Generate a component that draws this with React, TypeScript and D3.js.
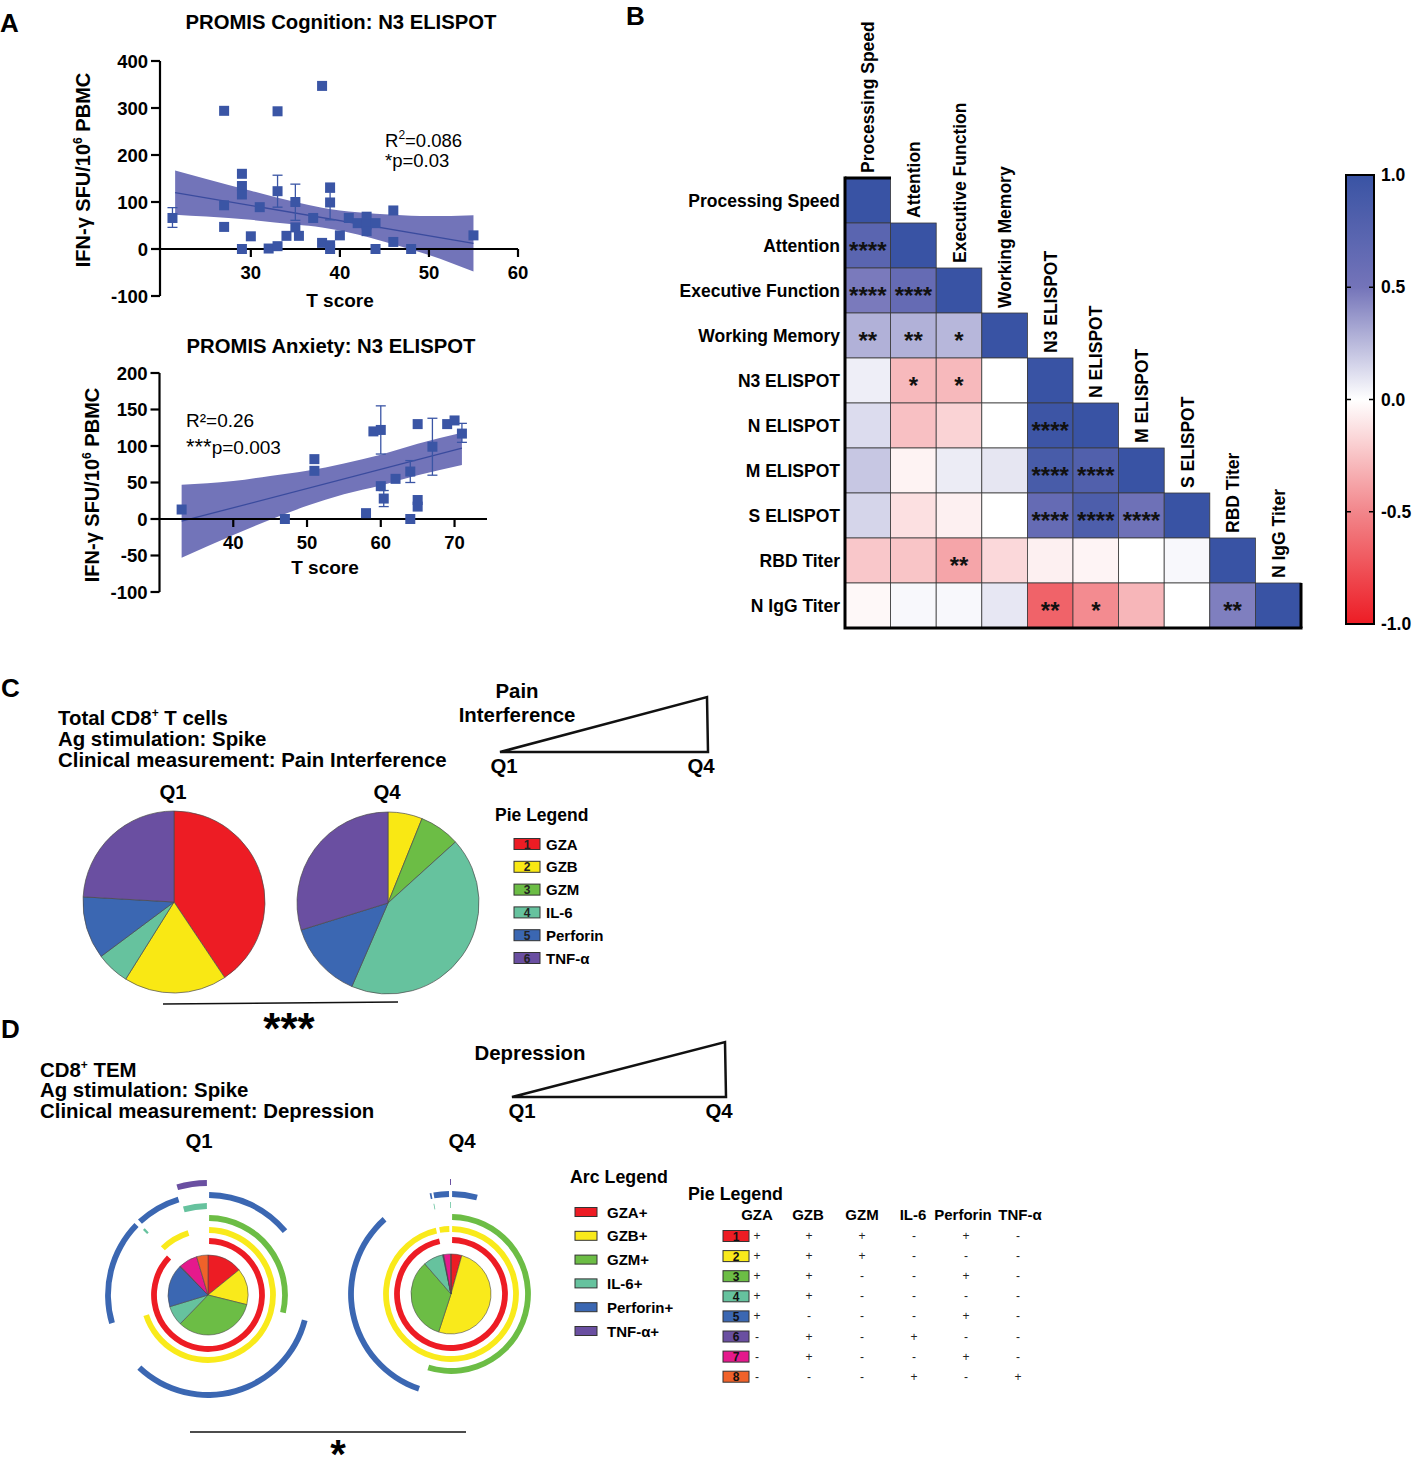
import React from 'react';
import * as d3 from 'd3';

const FONT = "'Liberation Sans', Arial, Helvetica, sans-serif";
const MARK = '#3a55a5';

// ---------------- Panel A data ----------------
const cogT = [21.2, 27, 27, 27, 29, 29, 29, 29, 30, 31, 32, 33, 33, 33, 34, 35, 35, 35.4, 37, 38, 38, 38.9, 38.9, 38.9, 38.9, 40, 41, 42, 43, 43, 43, 44, 44, 46, 46, 48, 55];
const cogSFU = [66, 294, 93, 47, 160, 134, 116, 0, 27, 89, 1, 293, 123, 6, 28, 100, 46, 28, 66, 13, 347, 8, 131, 99, 0, 29, 66, 55, 66, 52, 38, 55, 0, 82, 15, 0, 29];
const cogErrT = [21.2, 33, 35, 38.9, 43];
const cogErrLo = [46, 89, 61, 62, 50];
const cogErrHi = [88, 157, 138, 121, 78];
const cogFitT = [21.5, 55];
const cogFitSFU = [120, 12];
const cogBandT = [21.5, 25, 30, 35, 38, 42, 46, 50, 55];
const cogBandHi = [167, 149, 124, 100, 88, 78, 73, 70, 72];
const cogBandLo = [73, 69, 62, 52, 46, 31, 10, -13, -48];
const cogXTicks = [30, 40, 50, 60];
const cogYTicks = [-100, 0, 100, 200, 300, 400];

const anxT = [33, 47, 51, 51, 58, 59, 60, 60, 60.4, 62, 64, 64, 65, 65, 65, 67, 69, 70, 71];
const anxSFU = [13, 0, 82, 66, 8, 120, 122, 45, 28, 55, 65, 0, 130, 26, 17, 99, 130, 135, 117];
const anxErrT = [60, 60.4, 64, 67, 71];
const anxErrLo = [89, 17, 50, 60, 105];
const anxErrHi = [155, 39, 80, 138, 131];
const anxFitT = [33, 71];
const anxFitSFU = [-3, 97];
const anxBandT = [33, 40, 45, 50, 55, 60, 65, 71];
const anxBandHi = [47, 52, 59, 66, 76, 88, 103, 118];
const anxBandLo = [-53, -22, -1, 18, 34, 46, 60, 74];
const anxXTicks = [40, 50, 60, 70];
const anxYTicks = [-100, -50, 0, 50, 100, 150, 200];

// ---------------- Panel B data ----------------
const heatLabels = ['Processing Speed', 'Attention', 'Executive Function', 'Working Memory', 'N3 ELISPOT', 'N ELISPOT', 'M ELISPOT', 'S ELISPOT', 'RBD Titer', 'N IgG Titer'];
const heatR = [
  [1],
  [0.72, 1],
  [0.48, 0.63, 1],
  [0.28, 0.28, 0.26, 1],
  [0.06, -0.29, -0.29, 0, 1],
  [0.125, -0.26, -0.18, 0, 0.97, 1],
  [0.2, -0.05, 0.07, 0.09, 0.87, 0.8, 1],
  [0.15, -0.13, -0.06, 0, 0.63, 0.83, 0.55, 1],
  [-0.23, -0.24, -0.37, -0.16, -0.06, -0.045, 0, 0.025, 1],
  [-0.03, 0.025, 0.025, 0.085, -0.665, -0.48, -0.3, 0, 0.46, 1],
];
const heatStars = [
  [''],
  ['****', ''],
  ['****', '****', ''],
  ['**', '**', '*', ''],
  ['', '*', '*', '', ''],
  ['', '', '', '', '****', ''],
  ['', '', '', '', '****', '****', ''],
  ['', '', '', '', '****', '****', '****', ''],
  ['', '', '**', '', '', '', '', '', ''],
  ['', '', '', '', '**', '*', '', '', '**', ''],
];
const colorStops = [-1, -0.5, 0, 0.5, 1];
const colorRange = ['#ed1c24', '#f2868b', '#ffffff', '#7474b9', '#3953a4'];
const colorbarTicks = [1.0, 0.5, 0.0, -0.5, -1.0];

// ---------------- Panel C data ----------------
const pieMarkers = ['GZA', 'GZB', 'GZM', 'IL-6', 'Perforin', 'TNF-α'];
const pieColors = ['#ed1c24', '#f9e814', '#6cbd45', '#66c29e', '#3b67b2', '#6a4fa1'];
const painQ1 = [40.6, 18.3, 0, 5.9, 11.1, 24.1];
const painQ4 = [0, 6.1, 7.2, 43.2, 13.7, 29.8];

// ---------------- Panel D data ----------------
const arcMarkers = ['GZA+', 'GZB+', 'GZM+', 'IL-6+', 'Perforin+', 'TNF-α+'];
const arcColors = ['#ed1c24', '#f9ea1b', '#6cbd45', '#66c29e', '#3b67b2', '#6a4fa1'];
const spiceColors = ['#ed1c24', '#f9ea1b', '#6cbd45', '#66c29e', '#3b67b2', '#6a4fa1', '#e5198c', '#f0622a'];
const spiceCombos = ['+++-+-', '+++---', '++--+-', '++----', '+---+-', '-+-+--', '-+--+-', '---+-+'];
const depQ1 = [51, 53, 120, 29, 62, 1.5, 27, 16.5];
const depQ4 = [15.7, 182.3, 121, 29, 1, 0.5, 10, 0.5];

const ringR = [54, 65, 77, 89, 100, 112];

function Scatter(p: any) {
  const x = d3.scaleLinear().domain(p.xDomain).range(p.xRange);
  const y = d3.scaleLinear().domain(p.yDomain).range(p.yRange);
  const band = p.bandT.map((t: number, i: number) => [t, p.bandLo[i], p.bandHi[i]]);
  const area = d3.area<any>().x((d) => x(d[0])).y0((d) => y(d[1])).y1((d) => y(d[2])).curve(d3.curveMonotoneX);
  const line = d3.line<any>().x((d) => x(d[0])).y((d) => y(d[1]));
  const x0 = p.xRange[0];
  const y0 = y(0);
  return (
    <g>
      <path d={area(band) || ''} fill="#7274b9" />
      <path d={line(p.fitT.map((t: number, i: number) => [t, p.fitY[i]])) || ''} stroke="#3a4b9e" strokeWidth={1.3} fill="none" />
      <line x1={x0} x2={x0} y1={y(p.yDomain[1])} y2={y(p.yDomain[0])} stroke="#000" strokeWidth={2.2} />
      <line x1={x0} x2={p.xRange[1]} y1={y0} y2={y0} stroke="#000" strokeWidth={2.2} />
      {p.yTicks.map((v: number) => (
        <g key={'y' + v}>
          <line x1={x0 - 9} x2={x0} y1={y(v)} y2={y(v)} stroke="#000" strokeWidth={2.2} />
          <text x={x0 - 12} y={y(v) + 6.5} textAnchor="end" fontSize={18.5} fontWeight="bold">{v}</text>
        </g>
      ))}
      {p.xTicks.map((v: number) => (
        <g key={'x' + v}>
          <line x1={x(v)} x2={x(v)} y1={y0} y2={y0 + 8} stroke="#000" strokeWidth={2.2} />
          <text x={x(v)} y={y0 + 30} textAnchor="middle" fontSize={18.5} fontWeight="bold">{v}</text>
        </g>
      ))}
      {p.errT.map((t: number, i: number) => (
        <g key={'e' + i} stroke={MARK} strokeWidth={1.3}>
          <line x1={x(t)} x2={x(t)} y1={y(p.errLo[i])} y2={y(p.errHi[i])} />
          <line x1={x(t) - 5} x2={x(t) + 5} y1={y(p.errLo[i])} y2={y(p.errLo[i])} />
          <line x1={x(t) - 5} x2={x(t) + 5} y1={y(p.errHi[i])} y2={y(p.errHi[i])} />
        </g>
      ))}
      {p.xs.map((t: number, i: number) => (
        <rect key={'p' + i} x={x(t) - 5} y={y(p.ys[i]) - 5} width={10} height={10} fill={MARK} />
      ))}
    </g>
  );
}

function Heatmap() {
  const xb = d3.scaleBand().domain(heatLabels).range([845, 1301]);
  const yb = d3.scaleBand().domain(heatLabels).range([178, 628]);
  const color = d3.scaleLinear<string>().domain(colorStops).range(colorRange);
  const bw = xb.bandwidth();
  const bh = yb.bandwidth();
  const cb = d3.scaleLinear().domain([-1, 1]).range([624, 175]);
  return (
    <g>
      <defs>
        <linearGradient id="cbar" x1="0" y1="1" x2="0" y2="0">
          {d3.range(0, 21).map((k) => {
            const v = -1 + k * 0.1;
            return <stop key={k} offset={(k / 20).toFixed(3)} stopColor={color(v)} />;
          })}
        </linearGradient>
      </defs>
      {heatR.map((row, i) =>
        row.map((r, j) => (
          <rect key={i + '-' + j} x={xb(heatLabels[j])} y={yb(heatLabels[i])} width={bw} height={bh}
            fill={color(r)} stroke="#3a3a3a" strokeWidth={0.8} />
        ))
      )}
      {heatStars.map((row, i) =>
        row.map((s, j) => s ? (
          <text key={'s' + i + '-' + j} x={(xb(heatLabels[j]) as number) + bw / 2} y={(yb(heatLabels[i]) as number) + bh / 2 + 13}
            textAnchor="middle" fontSize={24} fontWeight="bold" fill="#111">{s}</text>
        ) : null)
      )}
      <path d={`M845,176.5 V628 H1302.5`} fill="none" stroke="#000" strokeWidth={3} />
      <line x1={845} x2={891} y1={178} y2={178} stroke="#000" strokeWidth={3} />
      <line x1={1301} x2={1301} y1={583} y2={628} stroke="#000" strokeWidth={3} />
      {heatLabels.map((l) => (
        <text key={'r' + l} x={840} y={(yb(l) as number) + bh / 2 + 6.5} textAnchor="end" fontSize={17.5} fontWeight="bold">{l}</text>
      ))}
      {heatLabels.map((l) => (
        <text key={'c' + l} transform={`translate(${(xb(l) as number) + bw / 2 + 6.5},${(yb(l) as number) - 5}) rotate(-90)`}
          fontSize={17.5} fontWeight="bold">{l}</text>
      ))}
      <rect x={1346} y={175} width={28} height={449} fill="url(#cbar)" stroke="#000" strokeWidth={2} />
      {colorbarTicks.map((v) => (
        <g key={'cb' + v}>
          {Math.abs(v) < 1 && (
            <g stroke="#000" strokeWidth={1.5}>
              <line x1={1346} x2={1351} y1={cb(v)} y2={cb(v)} />
              <line x1={1369} x2={1374} y1={cb(v)} y2={cb(v)} />
            </g>
          )}
          <text x={1381} y={cb(v) + 6} fontSize={17.5} fontWeight="bold">{v.toFixed(1)}</text>
        </g>
      ))}
    </g>
  );
}

function Pie({ cx, cy, r, values, colors }: any) {
  const arcs = d3.pie<number>().sort(null).value((d) => d)(values);
  const arcGen = d3.arc<any>().innerRadius(0).outerRadius(r);
  return (
    <g transform={`translate(${cx},${cy})`}>
      {arcs.map((a, i) => a.value > 0 ? (
        <path key={i} d={arcGen(a) || ''} fill={colors[i]} stroke="#4a4a4a" strokeWidth={0.7} />
      ) : null)}
    </g>
  );
}

function SpiceRing({ cx, cy, values }: any) {
  const arcs = d3.pie<number>().sort(null).value((d) => d)(values);
  const pieArc = d3.arc<any>().innerRadius(0).outerRadius(40);
  const ringArc = d3.arc<any>();
  const paths: any[] = [];
  arcMarkers.forEach((m, mi) => {
    const runs: { s: number; e: number }[] = [];
    let cur: { s: number; e: number } | null = null;
    arcs.forEach((a, k) => {
      if (spiceCombos[k][mi] === '+') {
        if (cur) cur.e = a.endAngle; else cur = { s: a.startAngle, e: a.endAngle };
      } else {
        if (cur) runs.push(cur);
        cur = null;
      }
    });
    if (cur) runs.push(cur);
    const r = ringR[mi];
    runs.forEach((run, ri) => {
      let pad = 1.1 / r;
      if (run.e - run.s < 4 * pad) pad = 0;
      paths.push(
        <path key={mi + '-' + ri} fill={arcColors[mi]}
          d={ringArc({ innerRadius: r - 2.9, outerRadius: r + 2.9, startAngle: run.s + pad, endAngle: run.e - pad }) || ''} />
      );
    });
  });
  return (
    <g transform={`translate(${cx},${cy})`}>
      {paths}
      {arcs.map((a, i) => (
        <path key={'p' + i} d={pieArc(a) || ''} fill={spiceColors[i]} stroke="#4a4a4a" strokeWidth={0.6} />
      ))}
    </g>
  );
}

export default function App() {
  return (
    <svg width={1412} height={1457} style={{ position: 'absolute', left: 0, top: 0, background: '#fff' }}
      fontFamily={FONT}>
      <rect x={0} y={0} width={1412} height={1457} fill="#fff" />
      <text x={0} y={32} fontSize={26} fontWeight="bold">A</text>
      <text x={626} y={25} fontSize={26} fontWeight="bold">B</text>
      <text x={1} y={697} fontSize={26} fontWeight="bold">C</text>
      <text x={1} y={1038} fontSize={26} fontWeight="bold">D</text>

      {/* Panel A top */}
      <text x={341} y={29} textAnchor="middle" fontSize={20.3} fontWeight="bold">PROMIS Cognition: N3 ELISPOT</text>
      <Scatter xs={cogT} ys={cogSFU} errT={cogErrT} errLo={cogErrLo} errHi={cogErrHi}
        fitT={cogFitT} fitY={cogFitSFU} bandT={cogBandT} bandHi={cogBandHi} bandLo={cogBandLo}
        xDomain={[19.8, 60]} xRange={[160, 518]} yDomain={[-100, 400]} yRange={[296, 61]}
        xTicks={cogXTicks} yTicks={cogYTicks} />
      <text transform="translate(90,170) rotate(-90)" textAnchor="middle" fontSize={20} fontWeight="bold">
        IFN-γ SFU/10<tspan fontSize={12} dy={-8}>6</tspan><tspan dy={8}> PBMC</tspan>
      </text>
      <text x={340} y={307} textAnchor="middle" fontSize={19} fontWeight="bold">T score</text>
      <text x={385} y={147} fontSize={18.5}>R<tspan fontSize={12} dy={-8}>2</tspan><tspan dy={8}>=0.086</tspan></text>
      <text x={385} y={167} fontSize={18.5}>*p=0.03</text>

      {/* Panel A bottom */}
      <text x={331} y={353} textAnchor="middle" fontSize={20.3} fontWeight="bold">PROMIS Anxiety: N3 ELISPOT</text>
      <Scatter xs={anxT} ys={anxSFU} errT={anxErrT} errLo={anxErrLo} errHi={anxErrHi}
        fitT={anxFitT} fitY={anxFitSFU} bandT={anxBandT} bandHi={anxBandHi} bandLo={anxBandLo}
        xDomain={[30, 74.4]} xRange={[159.5, 487]} yDomain={[-100, 200]} yRange={[592, 373]}
        xTicks={anxXTicks} yTicks={anxYTicks} />
      <text transform="translate(98.5,485) rotate(-90)" textAnchor="middle" fontSize={20} fontWeight="bold">
        IFN-γ SFU/10<tspan fontSize={12} dy={-8}>6</tspan><tspan dy={8}> PBMC</tspan>
      </text>
      <text x={325} y={574} textAnchor="middle" fontSize={19} fontWeight="bold">T score</text>
      <text x={186} y={427} fontSize={19}>R²=0.26</text>
      <text x={186} y={454} fontSize={19}><tspan fontSize={22}>***</tspan>p=0.003</text>

      {/* Panel B */}
      <Heatmap />

      {/* Panel C */}
      <g fontWeight="bold" fontSize={20.4}>
        <text x={58} y={725}>Total CD8<tspan fontSize={12} dy={-8}>+</tspan><tspan dy={8}> T cells</tspan></text>
        <text x={58} y={746}>Ag stimulation: Spike</text>
        <text x={58} y={767}>Clinical measurement: Pain Interference</text>
        <text x={517} y={698} textAnchor="middle">Pain</text>
        <text x={517} y={722} textAnchor="middle">Interference</text>
        <text x={504} y={773} textAnchor="middle">Q1</text>
        <text x={701} y={773} textAnchor="middle">Q4</text>
        <text x={173} y={799} textAnchor="middle">Q1</text>
        <text x={387} y={799} textAnchor="middle">Q4</text>
        <text x={495} y={821} fontSize={17.5}>Pie Legend</text>
      </g>
      <path d="M500,752 L707,697 L708,752 Z" fill="none" stroke="#111" strokeWidth={2.5} strokeLinejoin="miter" />
      <Pie cx={174} cy={902} r={91} values={painQ1} colors={pieColors} />
      <Pie cx={388} cy={903} r={91} values={painQ4} colors={pieColors} />
      {pieMarkers.map((m, i) => {
        const cy = 844 + i * 22.8;
        return (
          <g key={'cl' + m}>
            <rect x={514} y={cy - 5.5} width={26} height={11} fill={pieColors[i]} stroke="#333" strokeWidth={1} />
            <text x={527} y={cy + 4.5} textAnchor="middle" fontSize={12} fontWeight="bold" fill="#222">{i + 1}</text>
            <text x={546} y={cy + 5.5} fontSize={15} fontWeight="bold">{m}</text>
          </g>
        );
      })}
      <line x1={163} y1={1004} x2={398} y2={1002} stroke="#111" strokeWidth={1.5} />
      <text x={289} y={1044} textAnchor="middle" fontSize={44} fontWeight="bold">***</text>

      {/* Panel D */}
      <g fontWeight="bold" fontSize={20.4}>
        <text x={40} y={1077}>CD8<tspan fontSize={12} dy={-8}>+</tspan><tspan dy={8}> TEM</tspan></text>
        <text x={40} y={1097}>Ag stimulation: Spike</text>
        <text x={40} y={1118}>Clinical measurement: Depression</text>
        <text x={530} y={1060} textAnchor="middle">Depression</text>
        <text x={522} y={1118} textAnchor="middle">Q1</text>
        <text x={719} y={1118} textAnchor="middle">Q4</text>
        <text x={199} y={1148} textAnchor="middle">Q1</text>
        <text x={462} y={1148} textAnchor="middle">Q4</text>
        <text x={570} y={1183} fontSize={17.8}>Arc Legend</text>
        <text x={688} y={1200} fontSize={17.8}>Pie Legend</text>
      </g>
      <path d="M512,1097 L725,1042 L726,1097 Z" fill="none" stroke="#111" strokeWidth={2.5} />
      <SpiceRing cx={208} cy={1295} values={depQ1} />
      <SpiceRing cx={451} cy={1294} values={depQ4} />
      {arcMarkers.map((m, i) => {
        const cy = 1212 + i * 23.8;
        return (
          <g key={'al' + m}>
            <rect x={575} y={cy - 4.5} width={22} height={9} fill={arcColors[i]} stroke="#333" strokeWidth={1} />
            <text x={607} y={cy + 5.5} fontSize={15} fontWeight="bold">{m}</text>
          </g>
        );
      })}
      {pieMarkers.map((m, j) => (
        <text key={'h' + m} x={[757, 808, 862, 913, 963, 1020][j]} y={1220} textAnchor="middle" fontSize={15} fontWeight="bold">{m}</text>
      ))}
      {spiceCombos.map((combo, i) => {
        const cy = 1236 + i * 20.1;
        return (
          <g key={'pl' + i}>
            <rect x={723} y={cy - 5.5} width={26} height={11} fill={spiceColors[i]} stroke="#333" strokeWidth={1} />
            <text x={736} y={cy + 4.5} textAnchor="middle" fontSize={12} fontWeight="bold" fill="#111">{i + 1}</text>
            {combo.split('').map((s, j) => (
              <text key={j} x={[757, 809, 862, 914, 966, 1018][j]} y={cy + 4} textAnchor="middle" fontSize={12} fill="#222">{s}</text>
            ))}
          </g>
        );
      })}
      <line x1={190} y1={1432} x2={466} y2={1432} stroke="#111" strokeWidth={1.5} />
      <text x={338} y={1468} textAnchor="middle" fontSize={40} fontWeight="bold">*</text>
    </svg>
  );
}
